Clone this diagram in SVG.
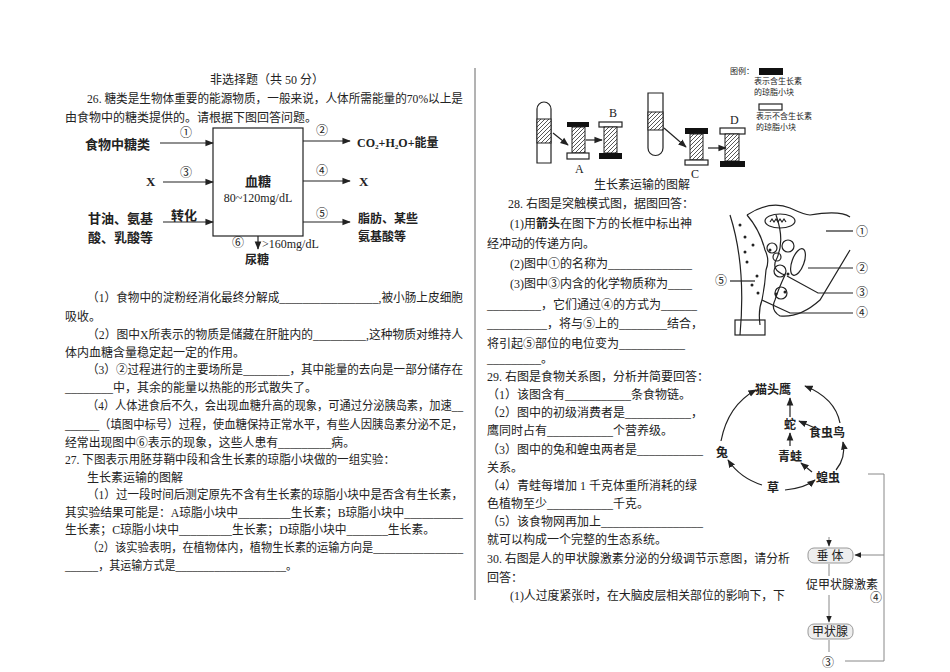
<svg xmlns="http://www.w3.org/2000/svg" width="950" height="672" viewBox="0 0 950 672">
<style>
text{font-family:"Liberation Serif","Noto Sans CJK SC",serif;font-size:12px;fill:#222}
.b{font-size:13px;font-weight:bold}
.s{font-size:8px;font-family:"Noto Sans CJK SC",sans-serif}
.m{font-size:13px}
.ln{stroke:#222;stroke-width:1.2;fill:none}
.w{fill:#fff;stroke:#222;stroke-width:1.2}
.k{fill:#111}
.h{fill:url(#hat);stroke:#222;stroke-width:1}
</style>
<defs>
<marker id="a" viewBox="0 0 10 10" refX="9" refY="5" markerWidth="7" markerHeight="7" orient="auto"><path d="M0,1 L10,5 L0,9 z" fill="#222"/></marker>
<pattern id="hat" width="4" height="4" patternUnits="userSpaceOnUse"><rect width="4" height="4" fill="#fff"/><path d="M0,4 L4,0" stroke="#444" stroke-width="0.9"/></pattern>
</defs>
<rect width="950" height="672" fill="#fff"/>
<line x1="475" y1="68" x2="475" y2="600" stroke="#666" stroke-width="1"/>

<g id="q26text">
<text x="210" y="84">非选择题（共 50 分）</text>
<text x="87" y="103" textLength="376" lengthAdjust="spacingAndGlyphs">26. 糖类是生物体重要的能源物质，一般来说，人体所需能量的70%以上是</text>
<text x="65" y="122">由食物中的糖类提供的。请根据下图回答问题。</text>
</g>
<g id="blood-sugar">
<rect x="213" y="128" width="90" height="108" class="w"/>
<text x="258" y="186" text-anchor="middle" class="m" font-weight="bold">血糖</text>
<text x="258" y="202" text-anchor="middle" font-size="11">80~120mg/dL</text>
</g>
<g id="labels26">
<text x="85" y="149" class="b">食物中糖类</text>
<text x="146" y="186" class="b">X</text>
<text x="88" y="223" class="b">甘油、氨基</text>
<text x="88" y="242" class="b">酸、乳酸等</text>
<text x="171" y="220" class="b">转化</text>
<text x="357" y="147" font-size="11" font-weight="bold">CO₂+H₂O+能量</text>
<text x="359" y="186" class="b">X</text>
<text x="358" y="223" font-size="11" font-weight="bold">脂肪、某些</text>
<text x="358" y="241" font-size="11" font-weight="bold">氨基酸等</text>
<text x="186" y="137" text-anchor="middle" font-size="11">①</text>
<text x="186" y="177" text-anchor="middle" font-size="11">③</text>
<text x="322" y="135" text-anchor="middle" font-size="11">②</text>
<text x="322" y="175" text-anchor="middle" font-size="11">④</text>
<text x="322" y="218" text-anchor="middle" font-size="11">⑤</text>
<text x="238" y="247" text-anchor="middle" font-size="11">⑥</text>
<text x="262" y="248" font-size="11">&gt;160mg/dL</text>
<text x="245" y="264" font-weight="bold">尿糖</text>
</g>
<g id="connectors26">
<line x1="160" y1="143" x2="213" y2="143" class="ln" marker-end="url(#a)"/>
<line x1="163" y1="182" x2="213" y2="182" class="ln" marker-end="url(#a)"/>
<line x1="163" y1="222" x2="213" y2="222" class="ln" marker-end="url(#a)"/>
<line x1="303" y1="141" x2="350" y2="141" class="ln" marker-end="url(#a)"/>
<line x1="303" y1="181" x2="350" y2="181" class="ln" marker-end="url(#a)"/>
<line x1="303" y1="222" x2="350" y2="222" class="ln" marker-end="url(#a)"/>
<line x1="258" y1="236" x2="258" y2="249" class="ln" marker-end="url(#a)"/>
</g>

<g id="q26q27text">
<text x="87" y="302" textLength="376" lengthAdjust="spacingAndGlyphs">（1）食物中的淀粉经消化最终分解成_________________,被小肠上皮细胞</text>
<text x="65" y="321">吸收。</text>
<text x="87" y="339" textLength="376" lengthAdjust="spacingAndGlyphs">（2）图中X所表示的物质是储藏在肝脏内的_________,这种物质对维持人</text>
<text x="65" y="357">体内血糖含量稳定起一定的作用。</text>
<text x="87" y="374" textLength="376" lengthAdjust="spacingAndGlyphs">（3）②过程进行的主要场所是________，其中能量的去向是一部分储存在</text>
<text x="65" y="392">________中，其余的能量以热能的形式散失了。</text>
<text x="87" y="410" textLength="376" lengthAdjust="spacingAndGlyphs">（4）人体进食后不久，会出现血糖升高的现象，可通过分泌胰岛素，加速__</text>
<text x="65" y="429" textLength="398" lengthAdjust="spacingAndGlyphs">______（填图中标号）过程，使血糖保持正常水平，有些人因胰岛素分泌不足，</text>
<text x="65" y="447" textLength="290" lengthAdjust="spacingAndGlyphs">经常出现图中⑥表示的现象，这些人患有_________病。</text>
<text x="65" y="464" textLength="330" lengthAdjust="spacingAndGlyphs">27. 下图表示用胚芽鞘中段和含生长素的琼脂小块做的一组实验：</text>
<text x="87" y="482">生长素运输的图解</text>
<text x="87" y="499" textLength="376" lengthAdjust="spacingAndGlyphs">（1）过一段时间后测定原先不含有生长素的琼脂小块中是否含有生长素，</text>
<text x="65" y="517" textLength="398" lengthAdjust="spacingAndGlyphs">其实验结果可能是：A琼脂小块中_________生长素；B琼脂小块中__________</text>
<text x="65" y="534" textLength="370" lengthAdjust="spacingAndGlyphs">生长素；C琼脂小块中_________生长素；D琼脂小块中_______生长素。</text>
<text x="87" y="552" textLength="376" lengthAdjust="spacingAndGlyphs">（2）该实验表明，在植物体内，植物生长素的运输方向是________________</text>
<text x="65" y="570" textLength="232" lengthAdjust="spacingAndGlyphs">______，其运输方式是____________________。</text>
</g>

<g id="auxin">
<path d="M537,163 V109 A7,7 0 0 1 551,109 V163 Z" class="w"/>
<rect x="537" y="119" width="14" height="24" class="h"/>
<rect x="567" y="122" width="22" height="5" class="k"/>
<rect x="572" y="127" width="13" height="26" class="h"/>
<rect x="567" y="153" width="22" height="6" class="w"/>
<rect x="599" y="122" width="23" height="5" class="w"/>
<rect x="604" y="127" width="13" height="26" class="h"/>
<rect x="599" y="153" width="23" height="6" class="k"/>
<path d="M648,93 H663 V148 A7.5,7.5 0 0 1 648,148 Z" class="w"/>
<rect x="648" y="112" width="15" height="18" class="h"/>
<rect x="685" y="128" width="23" height="6" class="k"/>
<rect x="690" y="134" width="13" height="26" class="h"/>
<rect x="685" y="160" width="23" height="5" class="w"/>
<rect x="720" y="128" width="25" height="6" class="w"/>
<rect x="725" y="134" width="14" height="27" class="h"/>
<rect x="720" y="161" width="25" height="6" class="k"/>
<line x1="553" y1="133" x2="568" y2="145" class="ln" marker-end="url(#a)"/>
<line x1="586" y1="140" x2="602" y2="140" class="ln" marker-end="url(#a)"/>
<line x1="664" y1="128" x2="686" y2="147" class="ln" marker-end="url(#a)"/>
<line x1="708" y1="148" x2="726" y2="148" class="ln" marker-end="url(#a)"/>
<text x="575" y="173" font-size="10">A</text>
<text x="609" y="117" font-size="10">B</text>
<text x="691" y="178" font-size="10">C</text>
<text x="730" y="124" font-size="10">D</text>
<text x="730" y="74" class="s">图例：</text>
<rect x="759" y="68" width="24" height="7" class="k"/>
<text x="754" y="84" class="s">表示含生长素</text>
<text x="754" y="95" class="s">的琼脂小块</text>
<rect x="759" y="104" width="23" height="6" class="w"/>
<text x="756" y="119" class="s">表示不含生长素</text>
<text x="756" y="130" class="s">的琼脂小块</text>
<text x="594" y="189" font-size="11" font-family="Noto Sans CJK SC,sans-serif">生长素运输的图解</text>
</g>

<g id="q28text">
<text x="508" y="208">28. 右图是突触模式图，据图回答：</text>
<text x="510" y="228">(1)用<tspan font-weight="bold">箭头</tspan>在图下方的长框中标出神</text>
<text x="487" y="248">经冲动的传递方向。</text>
<text x="510" y="268">(2)图中①的名称为______________</text>
<text x="510" y="288">(3)图中③内含的化学物质称为____</text>
<text x="487" y="309">_________，它们通过④的方式为______</text>
<text x="487" y="328">__________，将与⑤上的________结合，</text>
<text x="487" y="348">将引起⑤部位的电位变为___________</text>
<text x="487" y="363">_________。</text>
</g>

<g id="synapse">
<path d="M730,215 C738,240 745,280 740,335" class="ln"/>
<path d="M747,215 Q770,200 790,208 Q805,215 810,215 Q840,210 850,217" class="ln"/>
<path d="M747,215 Q760,230 765,250 Q770,260 766,270 Q765,285 762,300 Q758,310 760,325" class="ln"/>
<path d="M776,215 Q785,240 777,258 Q770,270 785,275 Q778,290 775,300 Q770,310 780,316 Q800,318 820,300 Q835,275 850,250" class="ln"/>
<ellipse cx="780" cy="221" rx="15" ry="7" class="ln"/>
<path d="M770,222 l2,-3 l2,3 l2,-3 l2,3 l2,-3 l2,3 l2,-3 l2,3" class="ln" stroke-width="0.8"/>
<ellipse cx="798" cy="262" rx="6" ry="14" transform="rotate(20 798 262)" class="ln"/>
<circle cx="772" cy="248" r="5" class="ln"/>
<circle cx="788" cy="246" r="6" class="ln"/>
<circle cx="777" cy="257" r="4" class="ln"/>
<circle cx="780" cy="271" r="6" class="ln"/>
<circle cx="781" cy="293" r="6" class="ln"/>
<g fill="#222"><circle cx="740" cy="225" r="1.5"/><circle cx="745" cy="237" r="1.5"/><circle cx="753" cy="245" r="1.5"/><circle cx="747" cy="262" r="1.5"/><circle cx="757" cy="276" r="1.5"/><circle cx="752" cy="285" r="1.5"/><circle cx="758" cy="293" r="1.5"/><circle cx="745" cy="252" r="1.5"/><circle cx="788" cy="274" r="1.5"/><circle cx="770" cy="250" r="1.5"/><circle cx="776" cy="294" r="1.5"/><circle cx="785" cy="292" r="1.5"/></g>
<line x1="826" y1="231" x2="853" y2="231" class="ln"/>
<line x1="808" y1="268" x2="853" y2="268" class="ln"/>
<path d="M787,276 L818,293 H853" class="ln"/>
<path d="M762,300 L790,313 H853" class="ln"/>
<line x1="730" y1="281" x2="755" y2="281" class="ln"/>
<text x="856" y="236" font-size="12">①</text>
<text x="856" y="273" font-size="12">②</text>
<text x="856" y="297" font-size="12">③</text>
<text x="856" y="317" font-size="12">④</text>
<text x="715" y="285" font-size="12">⑤</text>
<rect x="735" y="320" width="30" height="15" class="ln"/>
</g>

<g id="q29q30text">
<text x="487" y="381">29. 右图是食物关系图，分析并简要回答：</text>
<text x="487" y="399">（1）该图含有___________条食物链。</text>
<text x="487" y="417">（2）图中的初级消费者是___________，</text>
<text x="487" y="435">鹰同时占有___________个营养级。</text>
<text x="487" y="454">（3）图中的兔和蝗虫两者是___________</text>
<text x="487" y="472">关系。</text>
<text x="487" y="490">（4）青蛙每增加 1 千克体重所消耗的绿</text>
<text x="487" y="508">色植物至少___________千克。</text>
<text x="487" y="526">（5）该食物网再加上_________________</text>
<text x="487" y="544">就可以构成一个完整的生态系统。</text>
<text x="487" y="563" textLength="303" lengthAdjust="spacingAndGlyphs">30. 右图是人的甲状腺激素分泌的分级调节示意图，请分析</text>
<text x="487" y="582">回答：</text>
<text x="510" y="600" textLength="275" lengthAdjust="spacingAndGlyphs">(1)人过度紧张时，在大脑皮层相关部位的影响下，下</text>
</g>

<g id="foodweb" font-weight="bold">
<text x="773" y="394" text-anchor="middle" font-weight="bold">猫头鹰</text>
<text x="790" y="429" text-anchor="middle" font-weight="bold">蛇</text>
<text x="827" y="437" text-anchor="middle" font-weight="bold">食虫鸟</text>
<text x="722" y="457" text-anchor="middle" font-weight="bold">兔</text>
<text x="790" y="461" text-anchor="middle" font-weight="bold">青蛙</text>
<text x="828" y="482" text-anchor="middle" font-weight="bold">蝗虫</text>
<text x="773" y="492" text-anchor="middle" font-weight="bold">草</text>
</g>
<g id="connectors-foodweb">
<path d="M762,485 Q740,478 728,460" class="ln" marker-end="url(#a)"/>
<path d="M721,441 Q728,405 756,390" class="ln" marker-end="url(#a)"/>
<path d="M785,490 Q805,488 815,480" class="ln" marker-end="url(#a)"/>
<path d="M812,472 L801,463" class="ln" marker-end="url(#a)"/>
<path d="M790,446 L790,433" class="ln" marker-end="url(#a)"/>
<path d="M790,417 L790,398" class="ln" marker-end="url(#a)"/>
<path d="M815,428 L799,421" class="ln" marker-end="url(#a)"/>
<path d="M836,470 Q846,458 843,442" class="ln" marker-end="url(#a)"/>
<path d="M840,423 Q835,398 805,386" class="ln" marker-end="url(#a)"/>
</g>

<g id="thyroid">
<rect x="808" y="548" width="45" height="15" rx="6" fill="#eee" stroke="#999"/>
<text x="830" y="560" text-anchor="middle" fill="#444">垂 体</text>
<text x="806" y="589" font-size="9" fill="#444">促甲状腺激素</text>
<rect x="808" y="624" width="45" height="15" rx="6" fill="#eee" stroke="#999"/>
<text x="830" y="636" text-anchor="middle" font-size="11" fill="#444">甲状腺</text>
<text x="870" y="602" font-size="15">④</text>
<text x="822" y="667" font-size="14">③</text>
</g>
<g id="connectors-thyroid" stroke="#888" fill="none">
<line x1="829" y1="537" x2="829" y2="546" marker-end="url(#a)"/>
<line x1="829" y1="564" x2="829" y2="576"/>
<line x1="829" y1="595" x2="829" y2="622" marker-end="url(#a)"/>
<line x1="829" y1="640" x2="829" y2="652"/>
<path d="M868,474 H884 V661 H845"/>
<line x1="884" y1="555" x2="855" y2="555" marker-end="url(#a)"/>
</g>
</svg>
